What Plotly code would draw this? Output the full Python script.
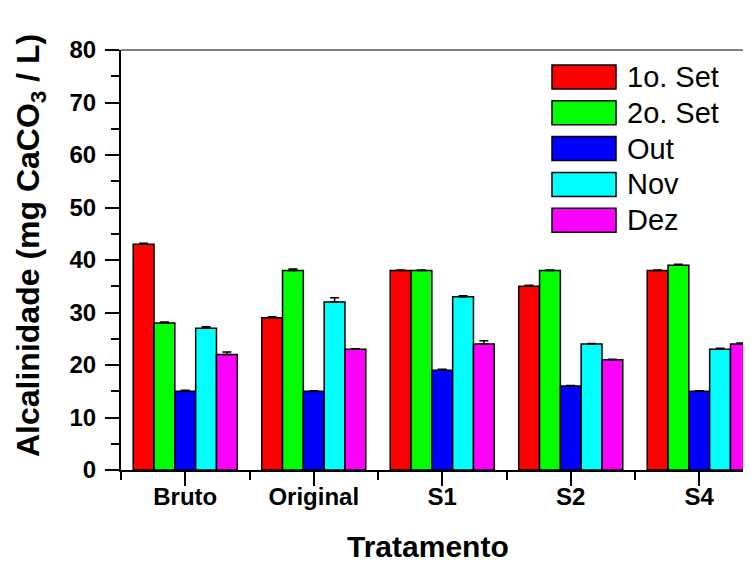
import plotly.graph_objects as go

categories = ["Bruto", "Original", "S1", "S2", "S4"]
series_names = ["1o. Set", "2o. Set", "Out", "Nov", "Dez"]
set1 = [43, 29, 38, 35, 38]
set2 = [28, 38, 38, 38, 39]
out_ = [15, 15, 19, 16, 15]
nov = [27, 32, 33, 24, 23]
dez = [22, 23, 24, 21, 24]
err_set1 = [0.2, 0.2, 0.1, 0.2, 0.1]
err_set2 = [0.2, 0.3, 0.1, 0.1, 0.2]
err_out = [0.2, 0.1, 0.2, 0.1, 0.1]
err_nov = [0.3, 0.8, 0.2, 0.1, 0.2]
err_dez = [0.5, 0.1, 0.6, 0.1, 0.2]
y_ticks = [0, 10, 20, 30, 40, 50, 60, 70, 80]

values = [set1, set2, out_, nov, dez]
errors = [err_set1, err_set2, err_out, err_nov, err_dez]
colors = ["#FF0000", "#00FF00", "#0000FF", "#00FFFF", "#FF00FF"]

FONT = "Liberation Sans, Arial, Helvetica, sans-serif"
OFF = 8  # page body margin
W, H = 751 - OFF, 563 - OFF
L, R, T, B = 121 - OFF, 0, 50 - OFF, 101 - OFF
PW, PH = W - L - R, H - T - B

def px_x(p):
    return (p - OFF - L) / PW

def px_y(p):
    return (H - B - (p - OFF)) / PH

xpos = list(range(len(categories)))
fig = go.Figure()
for name, vals, errs, col in zip(series_names, values, errors, colors):
    fig.add_trace(go.Bar(
        x=xpos, y=vals, name=name,
        marker=dict(color=col, line=dict(color="black", width=1.5)),
        error_y=dict(type="data", array=errs, arrayminus=[0] * len(errs),
                     symmetric=False, color="black", thickness=1.5, width=4.5),
        showlegend=False,
    ))

shapes = []
annotations = []
shapes.append(dict(type="line", xref="paper", yref="paper", x0=0, x1=1, y0=1, y1=1,
                   line=dict(color="black", width=1)))
row0, step = 77, 35.8
for i, (name, col) in enumerate(zip(series_names, colors)):
    cy = row0 + i * step
    shapes.append(dict(type="rect", xref="paper", yref="paper",
                       x0=px_x(552), x1=px_x(616), y0=px_y(cy + 12), y1=px_y(cy - 12),
                       fillcolor=col, line=dict(color="black", width=1.5)))
    annotations.append(dict(text=name, xref="paper", yref="paper", x=px_x(625), y=px_y(cy),
                            xanchor="left", yanchor="middle", showarrow=False,
                            font=dict(family=FONT, size=29, color="black")))

annotations.append(dict(text="<b>Alcalinidade (mg CaCO<sub>3</sub> / L)</b>", textangle=-90,
                        xref="paper", yref="paper", x=px_x(30), y=px_y(246),
                        xanchor="center", yanchor="middle", showarrow=False,
                        font=dict(family=FONT, size=32, color="black")))
annotations.append(dict(text="<b>Tratamento</b>", xref="paper", yref="paper",
                        x=px_x(428), y=px_y(546), xanchor="center", yanchor="middle",
                        showarrow=False, font=dict(family=FONT, size=30, color="black")))

fig.update_layout(
    width=W, height=H,
    margin=dict(l=L, r=R, t=T, b=B),
    paper_bgcolor="white", plot_bgcolor="white",
    barmode="group", bargap=0.19, bargroupgap=0,
    shapes=shapes, annotations=annotations,
    font=dict(family=FONT, color="black"),
)
fig.update_xaxes(
    range=[-0.5, -0.5 + PW / 128.5],
    tickmode="array", tickvals=xpos,
    ticktext=["<b>%s</b>" % c for c in categories],
    tickfont=dict(family=FONT, size=24, color="black"),
    ticks="outside", ticklen=14, tickwidth=2, tickcolor="black",
    ticklabelstandoff=-10,
    showline=True, linecolor="black", linewidth=2,
    showgrid=False, zeroline=False,
    minor=dict(tickmode="array", tickvals=[x - 0.5 for x in xpos] + [len(xpos) - 0.5],
               ticks="outside", ticklen=8, tickwidth=2, tickcolor="black", showgrid=False),
)
fig.update_yaxes(
    range=[0, 80],
    tickmode="array", tickvals=y_ticks,
    ticktext=["<b>%d</b>" % v for v in y_ticks],
    tickfont=dict(family=FONT, size=24, color="black"),
    ticks="outside", ticklen=14, tickwidth=2, tickcolor="black",
    ticklabelstandoff=4,
    showline=True, linecolor="black", linewidth=2,
    showgrid=False, zeroline=False,
    minor=dict(tickmode="array", tickvals=[5, 15, 25, 35, 45, 55, 65, 75],
               ticks="outside", ticklen=8, tickwidth=2, tickcolor="black", showgrid=False),
)

fig.write_html("out.html")
